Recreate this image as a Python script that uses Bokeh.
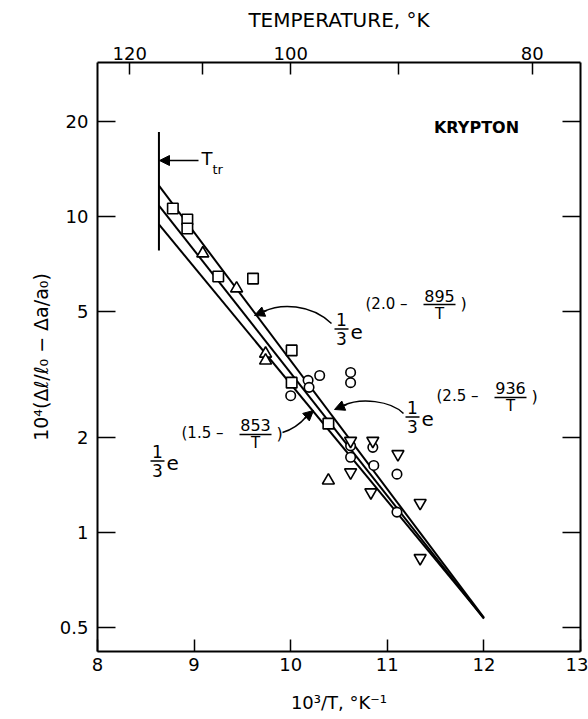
from bokeh.plotting import figure
from bokeh.models import (Range1d, LinearAxis, LogAxis, FixedTicker, Arrow,
                          NormalHead, Label, CustomJSTickFormatter, Title)
from bokeh.embed import file_html
from bokeh.resources import INLINE

# ---------------- data ----------------
x_ticks = [8, 9, 10, 11, 12, 13]
x_tick_labels = ["8", "9", "10", "11", "12", "13"]
y_ticks = [0.5, 1, 2, 5, 10, 20]
y_tick_labels = ["0.5", "1", "2", "5", "10", "20"]
temp_ticks_K = [120, 110, 100, 90, 80]
temp_tick_labels = ["120", "", "100", "", "80"]

square_x = [8.78, 8.93, 8.93, 9.25, 9.61, 10.01, 10.01, 10.39]
square_y = [10.6, 9.79, 9.16, 6.46, 6.36, 3.77, 2.98, 2.21]

circle_x = [10.00, 10.18, 10.19, 10.30, 10.62, 10.62, 10.62, 10.62, 10.85, 10.86, 11.10, 11.10]
circle_y = [2.71, 3.03, 2.88, 3.14, 3.21, 2.98, 1.88, 1.73, 1.86, 1.63, 1.53, 1.16]

tri_up_x = [9.09, 9.44, 9.74, 9.74, 10.39]
tri_up_y = [7.64, 5.92, 3.68, 3.50, 1.46]

tri_down_x = [10.62, 10.85, 11.11, 10.62, 10.83, 11.34, 11.34]
tri_down_y = [1.95, 1.95, 1.77, 1.55, 1.34, 1.24, 0.83]

# straight lines (on log scale) 1/3 exp(A - B/T), end points
fit_x = [8.636, 12.0]
fit_895 = [10.83, 0.534]   # (2.0 - 895/T)
fit_936 = [12.53, 0.538]   # (2.5 - 936/T)
fit_853 = [9.44, 0.536]    # (1.5 - 853/T)

ttr_x = [8.636, 8.636]
ttr_y = [18.5, 7.8]

FONT = "DejaVu Sans"

# page pixel -> data helpers (for annotation placement only)
def dx(px):
    return 8 + (px - 97.0) / 96.6

def dy(py):
    return 10 ** ((532.0 - py) / 316.0)

p = figure(frame_width=483, frame_height=589,
           x_range=Range1d(8, 13), y_range=Range1d(0.4201, 30.72),
           y_axis_type="log", output_backend="svg", toolbar_location=None,
           min_border_left=97, min_border_right=8, min_border_top=62,
           min_border_bottom=68, background_fill_color="white",
           border_fill_color="white")
p.outline_line_color = None
p.xgrid.visible = False
p.ygrid.visible = False


def style(ax, tick_in, size):
    ax.axis_line_width = 2
    ax.axis_line_color = "black"
    ax.major_tick_in = tick_in
    ax.major_tick_out = 0
    ax.major_tick_line_width = 1.5
    ax.major_tick_line_color = "black"
    ax.minor_tick_line_color = None
    ax.major_label_text_font = FONT
    ax.major_label_text_font_size = size
    ax.major_label_text_color = "black"
    ax.axis_label_text_font = FONT
    ax.axis_label_text_font_style = "normal"
    ax.axis_label_text_color = "black"


xa = p.xaxis[0]
xa.ticker = FixedTicker(ticks=x_ticks)
xa.major_label_overrides = dict(zip(x_ticks, x_tick_labels))
style(xa, 12, "18px")
xa.major_label_standoff = 6
xa.axis_label = "10³/T, °K⁻¹"
xa.axis_label_text_font_size = "18px"
xa.axis_label_standoff = 18

ya = p.yaxis[0]
ya.ticker = FixedTicker(ticks=y_ticks)
ya.major_label_overrides = dict(zip(y_ticks, y_tick_labels))
style(ya, 18, "18px")
ya.major_label_standoff = 9

top = LinearAxis(ticker=FixedTicker(ticks=[1000.0 / t for t in temp_ticks_K]),
                 major_label_overrides={1000.0 / t: lab for t, lab in zip(temp_ticks_K, temp_tick_labels)},
                 axis_label="TEMPERATURE, °K")
style(top, 12, "18px")
top.major_label_standoff = 3
top.axis_label_text_font_size = "20px"
top.axis_label_standoff = 12
p.add_layout(top, "above")

right = LogAxis(ticker=FixedTicker(ticks=y_ticks),
                formatter=CustomJSTickFormatter(code="return ''"))
style(right, 18, "10px")
right.major_label_standoff = 0
p.add_layout(right, "right")

# y axis title (vertical, shifted down as in the original)
p.add_layout(Title(text="10⁴(Δℓ/ℓ₀ − Δa/a₀)", align="center", offset=-38,
                   standoff=10, text_font=FONT, text_font_size="19px",
                   text_font_style="normal", text_color="black"), "left")

# ---------------- lines ----------------
for ys in (fit_895, fit_936, fit_853):
    p.line(fit_x, ys, line_color="black", line_width=2)
p.line(ttr_x, ttr_y, line_color="black", line_width=2)

# ---------------- markers ----------------
mk = dict(fill_color="white", line_color="black", line_width=1.6)
p.scatter(square_x, square_y, marker="square", size=10.5, **mk)
p.scatter(circle_x, circle_y, marker="circle", size=9.5, **mk)
p.scatter(tri_up_x, tri_up_y, marker="triangle", size=12, **mk)
p.scatter(tri_down_x, tri_down_y, marker="inverted_triangle", size=12, **mk)


# ---------------- annotations ----------------
def lab(text, px, py, size, align="center", style_="normal"):
    p.add_layout(Label(x=dx(px), y=dy(py), text=text, text_font=FONT,
                       text_font_size=f"{size}px", text_align=align,
                       text_baseline="middle", text_color="black",
                       text_font_style=style_))


seg_x0, seg_x1, seg_y = [], [], []


def formula(X0, Y0, a, b, sup):
    lab("1", X0, Y0 - 1, 17)
    lab("3", X0, Y0 + 18, 17)
    seg_x0.append(dx(X0 - 7)); seg_x1.append(dx(X0 + 7)); seg_y.append(dy(Y0 + 8.5))
    lab("e", X0 + 9, Y0 + 11, 20, "left")
    lab(f"({a} –", X0 + 24, Y0 + sup, 15, "left")
    lab(b, X0 + 98, Y0 + sup - 8, 16)
    lab("T", X0 + 98, Y0 + sup + 10, 15)
    seg_x0.append(dx(X0 + 82)); seg_x1.append(dx(X0 + 114)); seg_y.append(dy(Y0 + sup + 1))
    lab(")", X0 + 119, Y0 + sup, 16, "left")


formula(341, 320, "2.0", "895", -17)
formula(412, 408, "2.5", "936", -12)
formula(157, 452, "1.5", "853", -19)
p.segment(seg_x0, seg_y, seg_x1, seg_y, line_color="black", line_width=1.5)

# curved pointers
bz = [((331, 323), (310, 303), (280, 303), (263, 311)),
      ((403, 413), (390, 400), (360, 397), (343, 405)),
      ((282, 432), (292, 429), (300, 423), (306, 416))]
p.bezier(x0=[dx(b[0][0]) for b in bz], y0=[dy(b[0][1]) for b in bz],
         x1=[dx(b[3][0]) for b in bz], y1=[dy(b[3][1]) for b in bz],
         cx0=[dx(b[1][0]) for b in bz], cy0=[dy(b[1][1]) for b in bz],
         cx1=[dx(b[2][0]) for b in bz], cy1=[dy(b[2][1]) for b in bz],
         line_color="black", line_width=1.5)
heads = [((266, 310), (254, 315)), ((346, 404), (334, 409)), ((304, 418), (313, 410))]
for (s, e) in heads:
    p.add_layout(Arrow(x_start=dx(s[0]), y_start=dy(s[1]), x_end=dx(e[0]), y_end=dy(e[1]),
                       line_width=1.5, line_color="black",
                       end=NormalHead(size=10, fill_color="black", line_color="black")))

# T_tr pointer
p.add_layout(Arrow(x_start=dx(198), y_start=dy(160), x_end=dx(159), y_end=dy(160),
                   line_width=1.5, line_color="black",
                   end=NormalHead(size=10, fill_color="black", line_color="black")))
lab("T", 201, 158, 18, "left")
lab("tr", 212, 169, 13, "left")

lab("KRYPTON", 476, 127, 16, "center", "bold")

open("out.html", "w").write(file_html(p, INLINE, title="Krypton"))
